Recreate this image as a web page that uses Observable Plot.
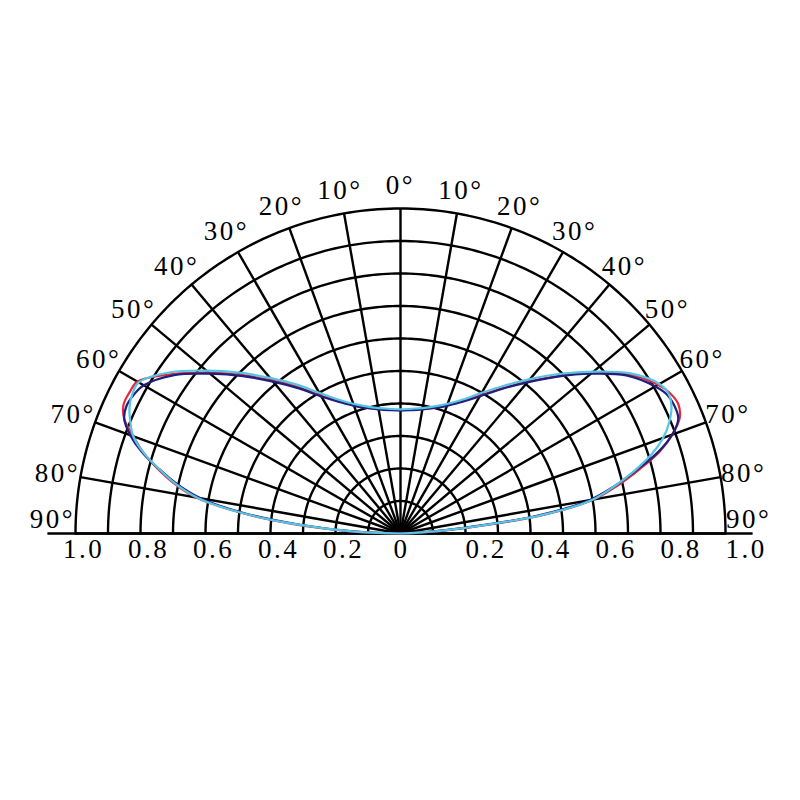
<!DOCTYPE html>
<html><head><meta charset="utf-8">
<script src="https://cdn.jsdelivr.net/npm/d3@7"></script>
<script src="https://cdn.jsdelivr.net/npm/@observablehq/plot@0.6"></script>
<style>
body{margin:0;background:#fff}
svg text{letter-spacing:2.5px}
</style>
</head><body><div id="chart"></div>
<script>
// polar angles (degrees from vertical, negative = left half)
const angles = [-90,-87.5,-85,-82.5,-80,-77.5,-75,-72.5,-70,-67.5,-65,-62.5,-60,-55,-50,-45,-40,-35,-30,-25,-20,-15,-10,-5,
  0,5,10,15,20,25,30,35,40,45,50,55,60,62.5,65,67.5,70,72.5,75,77.5,80,82.5,85,87.5,90];
const redR  = [0,0.15,0.33,0.50,0.64,0.715,0.775,0.83,0.875,0.92,0.94,0.94,0.935,0.855,0.77,0.69,0.615,0.55,0.49,0.45,0.42,0.40,0.39,0.382,
  0.38,0.382,0.39,0.40,0.42,0.45,0.49,0.545,0.61,0.685,0.77,0.855,0.915,0.935,0.943,0.93,0.89,0.835,0.76,0.685,0.605,0.45,0.21,0.06,0];
const navyR = [0,0.14,0.31,0.49,0.625,0.705,0.77,0.835,0.885,0.92,0.93,0.925,0.912,0.85,0.765,0.685,0.61,0.545,0.487,0.447,0.418,0.40,0.388,0.381,
  0.378,0.381,0.388,0.40,0.418,0.447,0.487,0.543,0.607,0.683,0.765,0.848,0.905,0.925,0.93,0.925,0.89,0.83,0.75,0.675,0.59,0.43,0.19,0.05,0];
const cyanR = [0,0.15,0.32,0.50,0.635,0.71,0.77,0.83,0.875,0.90,0.92,0.93,0.93,0.865,0.78,0.70,0.625,0.56,0.50,0.455,0.425,0.405,0.392,0.385,
  0.382,0.385,0.392,0.405,0.425,0.455,0.50,0.555,0.62,0.695,0.775,0.86,0.92,0.93,0.92,0.895,0.86,0.81,0.745,0.675,0.60,0.445,0.20,0.055,0];
const seriesNames = ["red","navy","cyan"];
const seriesColors = ["#e3283c","#1f1f7e","#56c5e3"];

const ringValues = [0.1,0.2,0.3,0.4,0.5,0.6,0.7,0.8,0.9,1.0];
const spokeAngles = [-90,-80,-70,-60,-50,-40,-30,-20,-10,0,10,20,30,40,50,60,70,80,90];
const radialTicks = [-1,-0.8,-0.6,-0.4,-0.2,0,0.2,0.4,0.6,0.8,1];
const radialTickLabels = ["1.0","0.8","0.6","0.4","0.2","0","0.2","0.4","0.6","0.8","1.0"];
const baselineExtent = 1.085;
const labelRadius = 1.072;

const rad = d => d * Math.PI / 180;
const px = (r, a) => r * Math.sin(rad(a));
const py = (r, a) => r * Math.cos(rad(a));

const seriesR = [redR, navyR, cyanR];
const curves = seriesNames.map((name, i) =>
  angles.map((a, j) => ({series: name, x: px(seriesR[i][j], a), y: py(seriesR[i][j], a)})));

const ringPts = ringValues.flatMap(r => d3.range(-90, 90.01, 1).map(a => ({ring: r, x: px(r, a), y: py(r, a)})));

const tickRows = radialTicks.map((t, i) => ({t, label: radialTickLabels[i]}));
const leftTicks = tickRows.filter(d => d.t < 0);
const centerTick = tickRows.filter(d => d.t === 0);
const rightTicks = tickRows.filter(d => d.t > 0);

const font = "Liberation Serif, DejaVu Serif, serif";
const labelAngle = a => Math.sign(a) * Math.min(Math.abs(a), 87.6);

const chart = Plot.plot({
  width: 800, height: 800,
  x: {domain: [-1, 1], range: [75, 725], axis: null},
  y: {domain: [0, 1], range: [533, 208], axis: null},
  style: {background: "#fff"},
  marks: [
    Plot.line(ringPts, {x: "x", y: "y", z: "ring", stroke: "#000", strokeWidth: 2.4}),
    Plot.link(spokeAngles, {x1: () => 0, y1: () => 0, x2: a => px(1, a), y2: a => py(1, a), stroke: "#000", strokeWidth: 2.4}),
    Plot.ruleY([0], {x1: -baselineExtent, x2: baselineExtent, stroke: "#000", strokeWidth: 2.4}),
    ...curves.map((c, i) => Plot.line(c, {x: "x", y: "y", stroke: seriesColors[i], strokeWidth: 2.2, curve: "catmull-rom"})),
    Plot.text(leftTicks, {x: "t", y: () => 0, text: "label", dx: 8, dy: 16, fontSize: 27, fontFamily: font, fill: "#000"}),
    Plot.text(centerTick, {x: "t", y: () => 0, text: "label", dx: 1, dy: 16, fontSize: 27, fontFamily: font, fill: "#000"}),
    Plot.text(rightTicks, {x: "t", y: () => 0, text: "label", dy: 16, textAnchor: "start", fontSize: 27, fontFamily: font, fill: "#000"}),
    Plot.text(spokeAngles, {x: a => px(labelRadius, labelAngle(a)), y: a => py(labelRadius, labelAngle(a)),
      text: a => Math.abs(a) + "°", fontSize: 27, fontFamily: font, fill: "#000"})
  ]
});
document.getElementById("chart").appendChild(chart);
</script>
</body></html>
